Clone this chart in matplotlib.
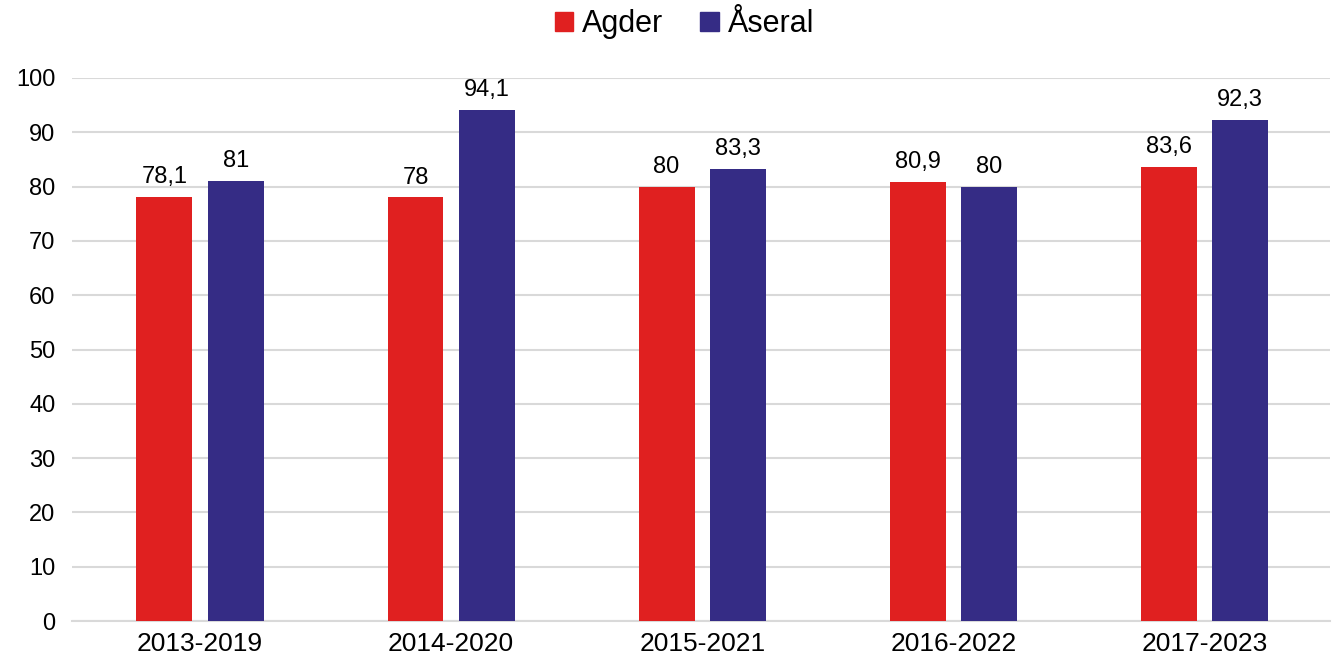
import numpy as np
import matplotlib.pyplot as plt
from matplotlib.patches import Patch

periods = ["2013-2019", "2014-2020", "2015-2021", "2016-2022", "2017-2023"]
agder = [78.1, 78.0, 80.0, 80.9, 83.6]
aseral = [81.0, 94.1, 83.3, 80.0, 92.3]
yticks = [0, 10, 20, 30, 40, 50, 60, 70, 80, 90, 100]

red = "#E02020"
blue = "#352C85"

plt.rcParams["font.family"] = ["Liberation Sans", "DejaVu Sans"]

fig = plt.figure(figsize=(13.42, 6.65), dpi=100)
ax = fig.add_axes([72 / 1342, 1 - 621 / 665, (1330 - 72) / 1342, (621 - 78) / 665])

x = np.arange(len(periods))
w = 0.223
off = 0.142
b1 = ax.bar(x - off, agder, w, color=red, zorder=3)
b2 = ax.bar(x + off, aseral, w, color=blue, zorder=3)

def fmt(v):
    s = f"{v:.1f}".replace(".", ",")
    return s[:-2] if s.endswith(",0") else s

for bars, vals in ((b1, agder), (b2, aseral)):
    for r, v in zip(bars, vals):
        ax.text(r.get_x() + r.get_width() / 2, v + 1.6, fmt(v), ha="center", va="bottom", fontsize=17)

ax.set_xlim(-0.51, 4.5)
ax.set_ylim(0, 100)
ax.set_yticks(yticks)
ax.set_xticks(x)
ax.set_xticklabels(periods, fontsize=19)
ax.tick_params(axis="y", labelsize=17, length=0, pad=12)
ax.tick_params(axis="x", length=0, pad=8)
ax.grid(axis="y", color="#D9D9D9", linewidth=1.5, zorder=0)
for s in ("top", "right", "left"):
    ax.spines[s].set_visible(False)
ax.spines["bottom"].set_color("#D9D9D9")
ax.spines["bottom"].set_linewidth(1.5)

handles = [Patch(color=red, label="Agder"), Patch(color=blue, label="Åseral")]
fig.legend(handles=handles, loc="center", bbox_to_anchor=(0.51, 1 - 24 / 665), ncol=2, frameon=False,
           fontsize=22, handlelength=0.6, handleheight=0.6, handletextpad=0.3, columnspacing=1.2)

fig.savefig("out.png", dpi=100)
